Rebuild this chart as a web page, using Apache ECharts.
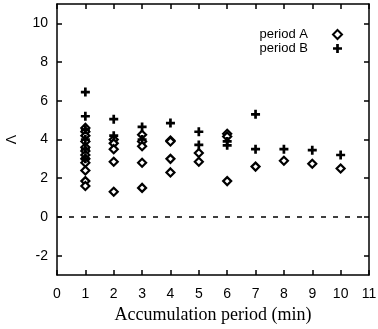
<!DOCTYPE html>
<html><head><meta charset="utf-8">
<script src="https://cdn.jsdelivr.net/npm/echarts@6/dist/echarts.min.js"></script>
<style>html,body{margin:0;padding:0;background:#fff}#c{width:378px;height:329px}</style>
</head><body><div id="c"></div>
<script>
// Data
const periodA_x = [1,1,1,1,1,1,1,1,1,1,1,1, 2,2,2,2,2, 3,3,3,3,3, 4,4,4,4, 5,5, 6,6,6, 7, 8, 9, 10];
const periodA_y = [4.6,4.4,4.2,3.9,3.6,3.4,3.2,3.0,2.8,2.4,1.85,1.6, 4.0,3.8,3.5,2.85,1.3, 4.25,3.9,3.65,2.8,1.5, 3.95,3.9,3.0,2.3, 3.3,2.85, 4.3,4.15,1.85, 2.6, 2.9, 2.75, 2.5];
const periodB_x = [1,1,1,1,1,1, 2,2, 3,3, 4, 5,5, 6,6, 7,7, 8, 9, 10];
const periodB_y = [6.45,5.2,4.5,4.0,3.5,3.0, 5.05,4.2, 4.65,4.0, 4.85, 4.4,3.72, 3.9,3.7, 5.3,3.5, 3.5, 3.45, 3.2];
const xTicks = [0,1,2,3,4,5,6,7,8,9,10,11];
const yTicks = [-2,0,2,4,6,8,10];

const zip = (xs, ys) => xs.map((x, i) => [x, ys[i]]);
const plusPath = 'path://M3.5,0H6.5V3.5H10V6.5H6.5V10H3.5V6.5H0V3.5H3.5Z';
const line = {show: true, onZero: false, lineStyle: {color: '#000', width: 1.5}};
const tick = (vals) => ({show: true, inside: true, length: 5, customValues: vals, lineStyle: {color: '#000', width: 1.5}});
const labelFont = {color: '#000', fontFamily: 'Liberation Sans', fontSize: 14};
const chart = echarts.init(document.getElementById('c'));
chart.setOption({
  animation: false,
  backgroundColor: '#fff',
  grid: {left: 57, right: 9, top: 4, bottom: 54, containLabel: false, outerBoundsMode: 'none'},
  legend: {
    orient: 'vertical', right: 30, top: 23, align: 'right', itemGap: 1,
    itemWidth: 9, itemHeight: 9,
    textStyle: {fontFamily: 'Liberation Sans', fontSize: 13, color: '#000', padding: [0, 20, 0, 0]},
    data: ['period A', 'period B']
  },
  xAxis: [
    {type: 'value', min: 0, max: 11, position: 'bottom',
      axisLine: line, axisTick: tick(xTicks), splitLine: {show: false},
      axisLabel: Object.assign({margin: 12, customValues: xTicks}, labelFont),
      name: 'Accumulation period (min)', nameLocation: 'middle', nameGap: 31,
      nameTextStyle: {fontFamily: 'Liberation Serif', fontSize: 18, color: '#000'}},
    {type: 'value', min: 0, max: 11, position: 'top',
      axisLine: line, axisTick: tick(xTicks), splitLine: {show: false}, axisLabel: {show: false}}
  ],
  yAxis: [
    {type: 'value', min: -3, max: 11, position: 'left',
      axisLine: line, axisTick: tick(yTicks), splitLine: {show: false},
      axisLabel: Object.assign({margin: 9, customValues: yTicks}, labelFont),
      name: 'Λ', nameLocation: 'middle', nameGap: 38, nameRotate: 90,
      nameTextStyle: {fontFamily: 'Liberation Sans', fontSize: 14, color: '#000'}},
    {type: 'value', min: -3, max: 11, position: 'right',
      axisLine: line, axisTick: tick(yTicks), splitLine: {show: false}, axisLabel: {show: false}}
  ],
  series: [
    {
      name: 'period A', type: 'scatter', data: zip(periodA_x, periodA_y),
      symbol: 'diamond', symbolSize: 8,
      itemStyle: {color: '#fff', borderColor: '#000', borderWidth: 2.2, opacity: 1},
      z: 3,
      markLine: {
        silent: true, symbol: 'none', label: {show: false},
        lineStyle: {color: '#000', type: [5, 7], width: 1.5},
        data: [{yAxis: 0}]
      }
    },
    {
      name: 'period B', type: 'scatter', data: zip(periodB_x, periodB_y),
      symbol: plusPath, symbolSize: 9,
      itemStyle: {color: '#000', opacity: 1},
      z: 4
    }
  ]
});
</script></body></html>
